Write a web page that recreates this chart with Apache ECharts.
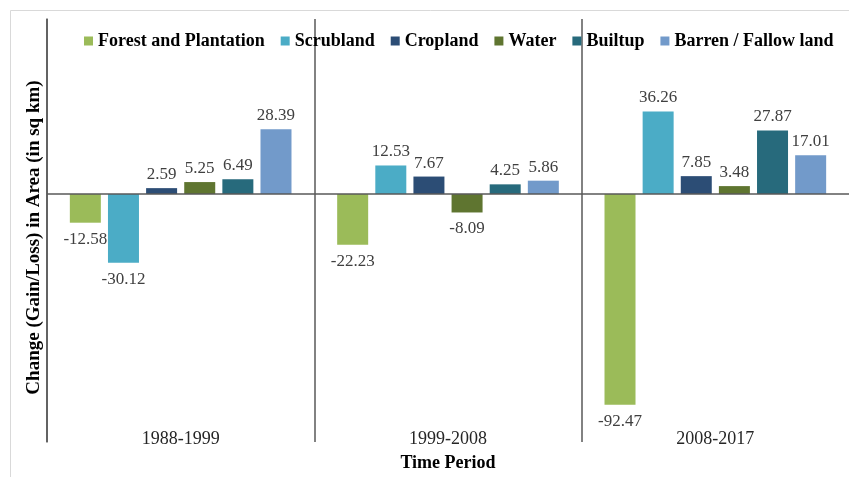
<!DOCTYPE html>
<html>
<head>
<meta charset="utf-8">
<script src="https://cdn.jsdelivr.net/npm/echarts@6/dist/echarts.min.js"></script>
<style>html,body{margin:0;padding:0;background:#fff}#c{width:849px;height:477px}</style>
</head>
<body>
<div id="c"></div>
<script>
const categories = ['1988-1999', '1999-2008', '2008-2017'];
const seriesNames = ['Forest and Plantation', 'Scrubland', 'Cropland', 'Water', 'Builtup', 'Barren / Fallow land'];
const forest = [-12.58, -22.23, -92.47];
const scrubland = [-30.12, 12.53, 36.26];
const cropland = [2.59, 7.67, 7.85];
const water = [5.25, -8.09, 3.48];
const builtup = [6.49, 4.25, 27.87];
const barren = [28.39, 5.86, 17.01];
const colors = ['#9bbb59', '#4bacc6', '#2c4d75', '#5f7530', '#276a7c', '#729aca'];

const values = [forest, scrubland, cropland, water, builtup, barren];
const serif = '"Liberation Serif", "Times New Roman", serif';

const series = values.map((d, i) => {
  const s = {
    name: seriesNames[i],
    type: 'bar',
    data: d.map(v => ({ value: v, label: { position: v < 0 ? 'bottom' : 'top', distance: v < 0 ? 8 : 5 } })),
    barWidth: 31,
    barGap: '23%',
    itemStyle: { color: colors[i] },
    label: {
      show: true,
      fontFamily: serif,
      fontSize: 17,
      color: '#404040',
      formatter: p => p.value.toFixed(2)
    }
  };
  if (i === 0) {
    s.markLine = {
      silent: true,
      symbol: 'none',
      label: { show: false },
      lineStyle: { color: '#595959', width: 1.5, type: 'solid' },
      data: [{ yAxis: 0 }]
    };
  }
  return s;
});

const chart = echarts.init(document.getElementById('c'), null, { renderer: 'canvas' });
chart.setOption({
  animation: false,
  backgroundColor: '#fff',
  color: colors,
  graphic: [{
    type: 'rect', left: 8, top: 8, silent: true, z: -10,
    shape: { x: 0, y: 0, width: 900, height: 520 },
    style: { fill: 'none', stroke: '#d9d9d9', lineWidth: 1 }
  }],
  legend: {
    left: 79,
    top: 27,
    itemWidth: 9,
    itemHeight: 9,
    itemGap: 16,
    icon: 'rect',
    textStyle: { fontFamily: serif, fontWeight: 'bold', fontSize: 18, color: '#000' },
    data: seriesNames
  },
  grid: { left: 47, right: -2, top: 19, bottom: 31, containLabel: false },
  xAxis: {
    type: 'category',
    data: categories,
    position: 'bottom',
    axisLine: { show: false, onZero: false },
    axisTick: { show: false },
    splitLine: { show: true, lineStyle: { color: ['#595959', '#595959', '#595959', 'rgba(0,0,0,0)'], width: 1.5 } },
    axisLabel: { fontFamily: serif, fontSize: 18, color: '#262626', margin: -12, verticalAlign: 'top' },
    name: 'Time Period',
    nameLocation: 'middle',
    nameGap: 12,
    nameTextStyle: { fontFamily: serif, fontWeight: 'bold', fontSize: 18, color: '#000', verticalAlign: 'top' }
  },
  yAxis: {
    type: 'value',
    min: -108.8,
    max: 76.8,
    axisLine: { show: true, lineStyle: { color: '#595959', width: 1.5 } },
    axisTick: { show: false },
    axisLabel: { show: false },
    splitLine: { show: false },
    name: 'Change (Gain/Loss) in Area (in sq km)',
    nameLocation: 'middle',
    nameGap: 3,
    nameTextStyle: { fontFamily: serif, fontWeight: 'bold', fontSize: 19, color: '#000', padding: [0, 14, 0, 0] }
  },
  series: series
});
</script>
</body>
</html>
